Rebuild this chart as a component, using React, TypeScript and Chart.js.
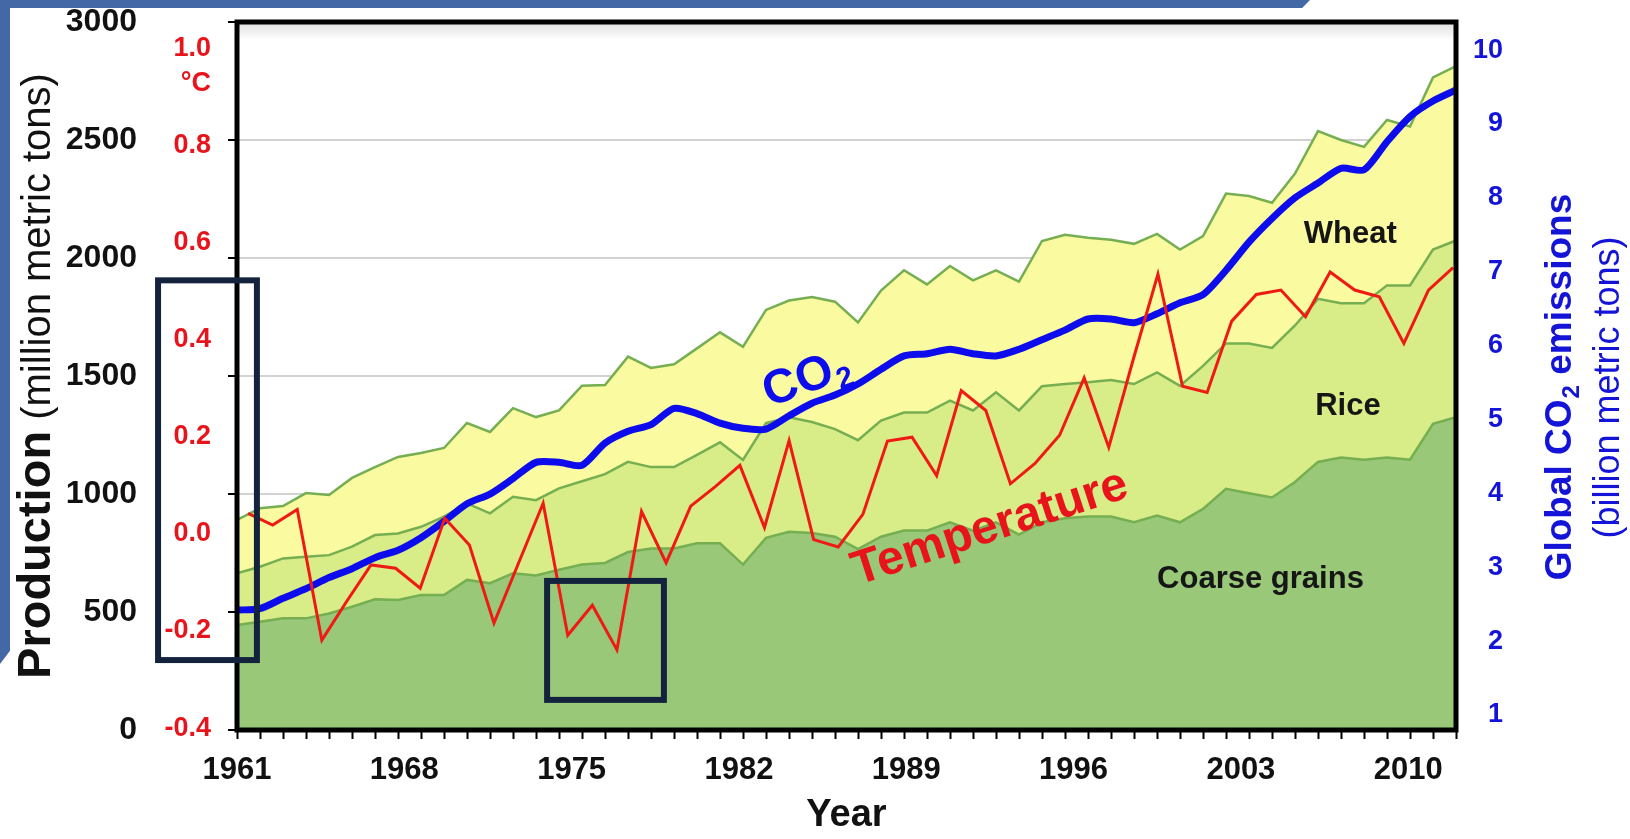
import React, { useEffect, useRef } from 'react';
import { Chart, registerables } from 'chart.js';

Chart.register(...registerables);

const FONT = '"Liberation Sans", Arial, Helvetica, sans-serif';

// ---------- data ----------
const AREA_YEARS = [
  1961, 1962, 1963, 1964, 1965, 1966, 1967, 1968, 1969, 1970,
  1971, 1972, 1973, 1974, 1975, 1976, 1977, 1978, 1979, 1980,
  1981, 1982, 1983, 1984, 1985, 1986, 1987, 1988, 1989, 1990,
  1991, 1992, 1993, 1994, 1995, 1996, 1997, 1998, 1999, 2000,
  2001, 2002, 2003, 2004, 2005, 2006, 2007, 2008, 2009, 2010,
  2011, 2012, 2013, 2014,
];

// million metric tons
const COARSE_GRAINS = [
  445, 459, 473, 473, 494, 522, 554, 551, 572, 572,
  636, 622, 664, 655, 679, 701, 708, 754, 769, 769,
  791, 791, 701, 814, 840, 835, 819, 767, 819, 845,
  845, 880, 845, 880, 828, 880, 897, 905, 905, 880,
  909, 880, 937, 1022, 1003, 985, 1051, 1136, 1155, 1145,
  1155, 1145, 1297, 1325,
];

const RICE = [
  219, 233, 254, 261, 247, 255, 272, 282, 289, 332,
  324, 296, 324, 319, 345, 353, 376, 382, 345, 345,
  375, 428, 443, 486, 485, 470, 456, 461, 492, 500,
  500, 516, 509, 551, 526, 577, 569, 569, 578, 586,
  606, 578, 606, 616, 635, 634, 663, 691, 653, 663,
  729, 739, 739, 749,
];

const WHEAT = [
  226, 248, 222, 270, 255, 291, 288, 324, 313, 291,
  341, 345, 376, 352, 330, 405, 378, 446, 420, 436,
  451, 466, 480, 480, 495, 530, 540, 499, 551, 603,
  543, 570, 551, 517, 546, 615, 632, 612, 594, 594,
  587, 578, 550, 635, 625, 615, 644, 711, 692, 663,
  701, 673, 729, 739,
];

// billion metric tons
const CO2_EMISSIONS = [
  2.42, 2.44, 2.58, 2.71, 2.86, 2.98, 3.13, 3.23, 3.40, 3.62,
  3.86, 3.99, 4.20, 4.42, 4.42, 4.38, 4.68, 4.84, 4.93, 5.15,
  5.08, 4.95, 4.88, 4.87, 5.05, 5.22, 5.33, 5.48, 5.68, 5.86,
  5.89, 5.95, 5.89, 5.86, 5.95, 6.08, 6.21, 6.36, 6.36, 6.31,
  6.43, 6.58, 6.69, 7.02, 7.40, 7.72, 8.00, 8.20, 8.40, 8.38,
  8.76, 9.10, 9.31, 9.46,
];

const TEMP_YEARS = [
  1961, 1962, 1963, 1964, 1965, 1966, 1967, 1968, 1969, 1970,
  1971, 1972, 1973, 1974, 1975, 1976, 1977, 1978, 1979, 1980,
  1981, 1982, 1983, 1984, 1985, 1986, 1987, 1988, 1989, 1990,
  1991, 1992, 1993, 1994, 1995, 1996, 1997, 1998, 1999, 2000,
  2001, 2002, 2003, 2004, 2005, 2006, 2007, 2008, 2009, 2010,
];

// °C anomaly
const TEMPERATURE = [
  0.042, 0.018, 0.050, -0.219, -0.140, -0.064, -0.071, -0.112, 0.032, -0.023,
  -0.184, -0.060, 0.063, -0.209, -0.147, -0.239, 0.046, -0.060, 0.057, 0.097,
  0.141, 0.013, 0.192, -0.012, -0.027, 0.040, 0.191, 0.199, 0.120, 0.295,
  0.254, 0.103, 0.145, 0.203, 0.321, 0.178, 0.360, 0.535, 0.304, 0.291,
  0.438, 0.493, 0.502, 0.447, 0.539, 0.502, 0.488, 0.392, 0.502, 0.548,
];

const YEAR_TICKS = [1961, 1968, 1975, 1982, 1989, 1996, 2003, 2010];
const PRODUCTION_TICKS = [0, 500, 1000, 1500, 2000, 2500, 3000];
const TEMP_TICKS = [-0.4, -0.2, 0, 0.2, 0.4, 0.6, 0.8, 1.0];
const CO2_TICKS = [1, 2, 3, 4, 5, 6, 7, 8, 9, 10];

// ---------- colours ----------
const RED = '#e8141c';
const BLUE = '#1414d8';
const LINE_BLUE = '#0c0cec';
const NAVY = '#14233d';

const decorPlugin = {
  id: 'decor',
  beforeDatasetsDraw(chart: any) {
    const { ctx, chartArea } = chart;
    const { left, right, top } = chartArea;
    ctx.save();
    const g = ctx.createLinearGradient(0, top, 0, top + 18);
    g.addColorStop(0, 'rgba(0,0,0,0.13)');
    g.addColorStop(1, 'rgba(0,0,0,0)');
    ctx.fillStyle = g;
    ctx.fillRect(left, top, right - left, 18);
    ctx.restore();
  },
  afterDatasetsDraw(chart: any) {
    const ctx = chart.ctx;
    const { xa, y } = chart.scales;
    ctx.save();
    ctx.textAlign = 'center';
    ctx.textBaseline = 'middle';
    ctx.fillStyle = '#161616';
    ctx.font = `bold 31px ${FONT}`;
    ctx.fillText('Wheat', xa.getPixelForValue(2009.4), y.getPixelForValue(2100));
    ctx.fillText('Rice', xa.getPixelForValue(2009.3), y.getPixelForValue(1373));
    ctx.fillText('Coarse grains', xa.getPixelForValue(2005.5), y.getPixelForValue(636));

    // CO2 label
    ctx.save();
    ctx.translate(xa.getPixelForValue(1985.7), y.getPixelForValue(1500));
    ctx.rotate((-20 * Math.PI) / 180);
    ctx.fillStyle = LINE_BLUE;
    ctx.textAlign = 'left';
    ctx.textBaseline = 'alphabetic';
    ctx.font = `bold 48px ${FONT}`;
    const wCO = ctx.measureText('CO').width;
    ctx.font = `bold 30px ${FONT}`;
    const w2 = ctx.measureText('2').width;
    const start = -(wCO + w2) / 2;
    ctx.font = `bold 48px ${FONT}`;
    ctx.fillText('CO', start, 17);
    ctx.font = `bold 30px ${FONT}`;
    ctx.fillText('2', start + wCO + 1, 25);
    ctx.restore();

    // Temperature label
    ctx.save();
    ctx.translate(xa.getPixelForValue(1993.74), y.getPixelForValue(855));
    ctx.rotate((-18 * Math.PI) / 180);
    ctx.fillStyle = RED;
    ctx.font = `bold 48px ${FONT}`;
    ctx.textAlign = 'center';
    ctx.textBaseline = 'middle';
    ctx.fillText('Temperature', 0, 0);
    ctx.restore();

    ctx.restore();
  },
  afterDraw(chart: any) {
    const ctx = chart.ctx;
    const { left, right, top, bottom } = chart.chartArea;
    const { xa, xt, y, yT, y2 } = chart.scales;
    ctx.save();

    // tick marks: bottom (one per area year) and left (production gridlines)
    ctx.strokeStyle = '#000';
    ctx.lineWidth = 2;
    ctx.beginPath();
    AREA_YEARS.forEach((yr) => {
      const px = Math.round(xa.getPixelForValue(yr)) + 0.5;
      ctx.moveTo(px, bottom);
      ctx.lineTo(px, bottom + 9);
    });
    PRODUCTION_TICKS.forEach((v) => {
      const py = Math.round(y.getPixelForValue(v));
      ctx.moveTo(left - 9, py);
      ctx.lineTo(left, py);
    });
    ctx.stroke();

    // plot frame
    ctx.lineWidth = 5;
    ctx.strokeStyle = '#000';
    ctx.strokeRect(left, top, right - left, bottom - top);

    // °C under the 1.0 tick
    ctx.fillStyle = RED;
    ctx.font = `bold 27px ${FONT}`;
    ctx.textAlign = 'right';
    ctx.textBaseline = 'middle';
    ctx.fillText('\u00B0C', yT.right - 26, yT.getPixelForValue(1.0) + 35);

    // left axis title
    ctx.save();
    ctx.translate(50, (top + bottom) / 2);
    ctx.rotate(-Math.PI / 2);
    ctx.fillStyle = '#111';
    ctx.textBaseline = 'alphabetic';
    ctx.textAlign = 'left';
    ctx.font = `bold 47px ${FONT}`;
    const wP = ctx.measureText('Production').width;
    ctx.font = `40px ${FONT}`;
    const wM = ctx.measureText(' (million metric tons)').width;
    const sx = -(wP + wM) / 2;
    ctx.font = `bold 47px ${FONT}`;
    ctx.fillText('Production', sx, 0);
    ctx.font = `40px ${FONT}`;
    ctx.fillText(' (million metric tons)', sx + wP, 0);
    ctx.restore();

    // right axis title
    const cy = (y2.getPixelForValue(3) + y2.getPixelForValue(8)) / 2 + 5;
    ctx.save();
    ctx.translate(1571, cy);
    ctx.rotate(-Math.PI / 2);
    ctx.fillStyle = BLUE;
    ctx.textAlign = 'left';
    ctx.textBaseline = 'alphabetic';
    ctx.font = `bold 37px ${FONT}`;
    const wA = ctx.measureText('Global CO').width;
    const wC = ctx.measureText(' emissions').width;
    ctx.font = `bold 24px ${FONT}`;
    const wS = ctx.measureText('2').width;
    const s2 = -(wA + wS + wC) / 2;
    ctx.font = `bold 37px ${FONT}`;
    ctx.fillText('Global CO', s2, 0);
    ctx.font = `bold 24px ${FONT}`;
    ctx.fillText('2', s2 + wA + 1, 8);
    ctx.font = `bold 37px ${FONT}`;
    ctx.fillText(' emissions', s2 + wA + wS + 1, 0);
    ctx.restore();

    ctx.save();
    ctx.translate(1619, cy);
    ctx.rotate(-Math.PI / 2);
    ctx.fillStyle = BLUE;
    ctx.textAlign = 'center';
    ctx.textBaseline = 'alphabetic';
    ctx.font = `36px ${FONT}`;
    ctx.fillText('(billion metric tons)', 0, 0);
    ctx.restore();

    // x axis title
    ctx.fillStyle = '#111';
    ctx.font = `bold 38px ${FONT}`;
    ctx.textAlign = 'center';
    ctx.textBaseline = 'middle';
    ctx.fillText('Year', (left + right) / 2, 816);

    // highlight boxes
    ctx.strokeStyle = NAVY;
    ctx.lineWidth = 6;
    const box = (x0: number, x1: number, t0: number, t1: number) => {
      const px0 = xt.getPixelForValue(x0);
      const px1 = xt.getPixelForValue(x1);
      const py0 = yT.getPixelForValue(t0);
      const py1 = yT.getPixelForValue(t1);
      ctx.strokeRect(px0, py0, px1 - px0, py1 - py0);
    };
    box(1957.34, 1961.36, 0.522, -0.26);
    box(1973.16, 1977.91, -0.097, -0.342);

    ctx.restore();
  },
};

const fitWidth = (w: number) => (s: any) => {
  s.width = w;
  s.paddingTop = 0;
  s.paddingBottom = 0;
};

export default function App() {
  const canvasRef = useRef<HTMLCanvasElement | null>(null);

  useEffect(() => {
    const canvas = canvasRef.current;
    if (!canvas) return;

    const pts = (xs: number[], ys: number[]) => xs.map((x, i) => ({ x, y: ys[i] }));
    const tickFont = (size: number) => ({ family: FONT, size, weight: 'bold' as const });

    const chart = new Chart(canvas, {
      type: 'line',
      data: {
        datasets: [
          {
            label: 'Temperature',
            data: pts(TEMP_YEARS, TEMPERATURE),
            xAxisID: 'xt',
            yAxisID: 'yT',
            borderColor: '#ef1a14',
            borderWidth: 3,
            pointRadius: 0,
            fill: false,
            tension: 0,
            order: 0,
          },
          {
            label: 'CO2',
            data: pts(AREA_YEARS, CO2_EMISSIONS),
            xAxisID: 'xa',
            yAxisID: 'y2',
            borderColor: LINE_BLUE,
            borderWidth: 7,
            pointRadius: 0,
            fill: false,
            tension: 0.25,
            borderCapStyle: 'round',
            borderJoinStyle: 'round',
            order: 1,
          },
          {
            label: 'Coarse grains',
            data: pts(AREA_YEARS, COARSE_GRAINS),
            xAxisID: 'xa',
            yAxisID: 'y',
            backgroundColor: '#98c878',
            borderColor: '#76ae52',
            borderWidth: 2.5,
            pointRadius: 0,
            fill: 'origin',
            tension: 0,
            order: 2,
          },
          {
            label: 'Rice',
            data: pts(AREA_YEARS, RICE),
            xAxisID: 'xa',
            yAxisID: 'y',
            backgroundColor: '#d8ec88',
            borderColor: '#76ae52',
            borderWidth: 2.5,
            pointRadius: 0,
            fill: '-1',
            tension: 0,
            order: 2,
          },
          {
            label: 'Wheat',
            data: pts(AREA_YEARS, WHEAT),
            xAxisID: 'xa',
            yAxisID: 'y',
            backgroundColor: '#fafaa0',
            borderColor: '#76ae52',
            borderWidth: 2.5,
            pointRadius: 0,
            fill: '-1',
            tension: 0,
            order: 2,
          },
        ],
      },
      options: {
        animation: false,
        responsive: false,
        maintainAspectRatio: false,
        events: [],
        layout: { padding: { left: 0, right: 127, top: 22, bottom: 49 } },
        plugins: {
          legend: { display: false },
          tooltip: { enabled: false },
          title: { display: false },
        },
        scales: {
          x: {
            type: 'linear',
            position: 'bottom',
            min: 1961,
            max: 2012,
            afterBuildTicks: (s: any) => {
              s.ticks = YEAR_TICKS.map((v) => ({ value: v }));
            },
            afterFit: (s: any) => {
              s.height = 60;
              s.paddingLeft = 0;
              s.paddingRight = 0;
            },
            ticks: {
              font: tickFont(31),
              color: '#111',
              padding: 22,
              autoSkip: false,
              maxRotation: 0,
              callback: (v: any) => String(v),
            },
            grid: { display: false, drawTicks: false },
            border: { display: false },
          },
          xa: { type: 'linear', display: false, min: 1961, max: 2014 },
          xt: { type: 'linear', display: false, min: 1960.55, max: 2010.12 },
          y: {
            type: 'linear',
            position: 'left',
            weight: 1,
            stacked: true,
            min: 0,
            max: 3000,
            afterBuildTicks: (s: any) => {
              s.ticks = PRODUCTION_TICKS.map((v) => ({ value: v }));
            },
            afterFit: fitWidth(145),
            ticks: {
              font: tickFont(32),
              color: '#111',
              padding: 8,
              callback: (v: any) => String(v),
            },
            grid: {
              color: '#d2d2d2',
              lineWidth: 2,
              drawTicks: false,
            },
            border: { display: false },
          },
          yT: {
            type: 'linear',
            position: 'left',
            weight: 0,
            min: -0.404,
            max: 1.054,
            afterBuildTicks: (s: any) => {
              s.ticks = TEMP_TICKS.map((v) => ({ value: v }));
            },
            afterFit: fitWidth(92),
            ticks: {
              font: tickFont(27),
              color: RED,
              padding: 26,
              callback: (v: any) => Number(v).toFixed(1),
            },
            grid: { display: false, drawTicks: false },
            border: { display: false },
          },
          y2: {
            type: 'linear',
            position: 'right',
            min: 0.797,
            max: 10.38,
            afterBuildTicks: (s: any) => {
              s.ticks = CO2_TICKS.map((v) => ({ value: v }));
            },
            afterFit: fitWidth(47),
            ticks: {
              font: tickFont(27),
              color: BLUE,
              padding: 17,
              crossAlign: 'far',
              callback: (v: any) => String(v),
            },
            grid: { display: false, drawTicks: false },
            border: { display: false },
          },
        },
      } as any,
      plugins: [decorPlugin],
    });

    return () => chart.destroy();
  }, []);

  return (
    <div
      style={{
        position: 'fixed',
        left: 0,
        top: 0,
        width: '1630px',
        height: '839px',
        background: '#ffffff',
        overflow: 'hidden',
      }}
    >
      <div
        style={{
          position: 'absolute',
          left: 0,
          top: 0,
          width: '1310px',
          height: '8px',
          background: '#4468a6',
          clipPath: 'polygon(0 0, 100% 0, 99.4% 100%, 0 100%)',
        }}
      />
      <div
        style={{
          position: 'absolute',
          left: 0,
          top: 0,
          width: '10px',
          height: '664px',
          background: '#4468a6',
          clipPath: 'polygon(0 0, 100% 0, 100% 98%, 0 100%)',
        }}
      />
      <canvas
        ref={canvasRef}
        width={1630}
        height={839}
        style={{ position: 'absolute', left: 0, top: 0, width: '1630px', height: '839px' }}
      />
    </div>
  );
}
